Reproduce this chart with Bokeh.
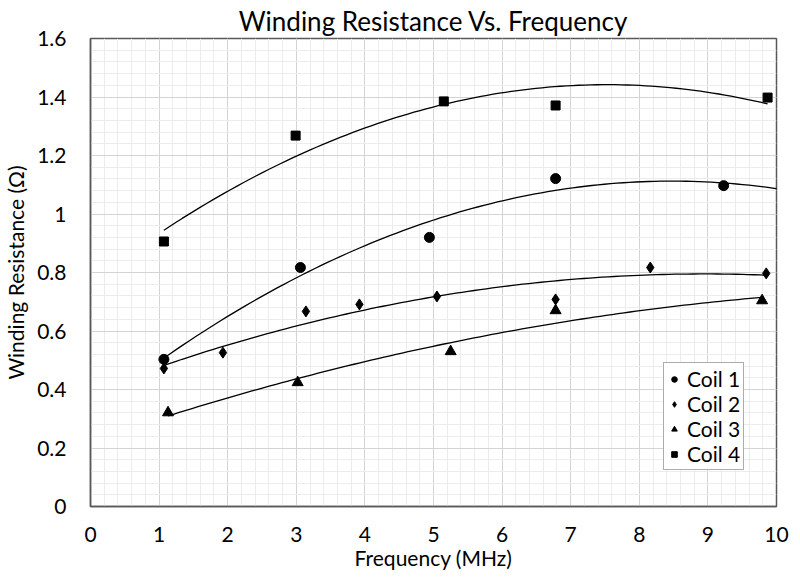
import numpy as np
from bokeh.plotting import figure
from bokeh.models import FixedTicker, Legend, LegendItem
from bokeh.embed import file_html
from bokeh.resources import INLINE

# Data (frequency in MHz, resistance in ohms)
coil1_f = [1.07, 3.06, 4.94, 6.78, 9.23]
coil1_r = [0.503, 0.817, 0.920, 1.121, 1.097]
coil2_f = [1.07, 1.93, 3.14, 3.92, 5.05, 6.78, 8.16, 9.85]
coil2_r = [0.472, 0.526, 0.667, 0.691, 0.718, 0.708, 0.817, 0.797]
coil3_f = [1.13, 3.02, 5.25, 6.78, 9.79]
coil3_r = [0.321, 0.424, 0.530, 0.670, 0.704]
coil4_f = [1.07, 2.99, 5.15, 6.78, 9.87]
coil4_r = [0.906, 1.268, 1.385, 1.371, 1.398]

x_ticks = [0, 1, 2, 3, 4, 5, 6, 7, 8, 9, 10]
y_ticks = [0, 0.2, 0.4, 0.6, 0.8, 1.0, 1.2, 1.4, 1.6]
y_labels = ["0", "0.2", "0.4", "0.6", "0.8", "1", "1.2", "1.4", "1.6"]

FONT = "Lato"

p = figure(frame_width=686, frame_height=468, x_range=(0, 10), y_range=(0, 1.6),
           output_backend="svg", toolbar_location=None,
           min_border_left=84, min_border_right=14, min_border_top=32, min_border_bottom=60)
p.title.text = "Winding Resistance Vs. Frequency"
p.title.align = "center"
p.title.text_font = FONT
p.title.text_font_size = "26px"
p.title.text_font_style = "normal"
p.title.text_color = "#000000"
p.title.offset = 0
p.title.standoff = 4
p.outline_line_color = "#595959"
p.outline_line_width = 1.5

xt = FixedTicker(ticks=x_ticks, minor_ticks=[i * 0.2 for i in range(51)])
yt = FixedTicker(ticks=y_ticks, minor_ticks=[i * 0.04 for i in range(41)])
p.xaxis.ticker = xt
p.yaxis.ticker = yt
p.yaxis.major_label_overrides = {t: l for t, l in zip(y_ticks, y_labels)}
p.xaxis.major_label_overrides = {t: str(t) for t in x_ticks}

for ax in (p.xaxis[0], p.yaxis[0]):
    ax.major_tick_line_color = None
    ax.minor_tick_line_color = None
    ax.axis_line_color = "#595959"
    ax.axis_line_width = 1.5
    ax.major_label_text_font = FONT
    ax.major_label_text_font_size = "21px"
    ax.major_label_text_color = "#000000"
    ax.axis_label_text_font = FONT
    ax.axis_label_text_font_size = "21px"
    ax.axis_label_text_font_style = "normal"
    ax.axis_label_text_color = "#000000"
p.xaxis.major_label_standoff = 14
p.yaxis.major_label_standoff = 18
p.xaxis.axis_label = "Frequency (MHz)"
p.yaxis.axis_label = "Winding Resistance (Ω)"
p.xaxis.axis_label_standoff = 0
p.yaxis.axis_label_standoff = 6

p.xgrid.ticker = xt
p.ygrid.ticker = yt
p.grid.grid_line_color = "#d4d4d4"
p.grid.minor_grid_line_color = "#ececec"

series = [
    ("Coil 1", coil1_f, coil1_r, "circle", 10, 10.15),
    ("Coil 2", coil2_f, coil2_r, "diamond", 11, None),
    ("Coil 3", coil3_f, coil3_r, "triangle", 11, None),
    ("Coil 4", coil4_f, coil4_r, "square", 9, None),
]
items = []
for name, f, r, marker, size, xend in series:
    coef = np.polyfit(f, r, 2)
    x0 = min(f)
    x1 = xend if xend else max(f)
    xs = np.linspace(x0, x1, 100)
    p.line(xs, np.polyval(coef, xs), line_color="#000000", line_width=1.3)
    rr = p.scatter(f, r, marker=marker, size=size,
                   fill_color="#000000", line_color="#000000")
    items.append(LegendItem(label=name, renderers=[rr]))

legend = Legend(items=items, location=(573, 36))
legend.label_text_font = FONT
legend.label_text_font_size = "21px"
legend.label_text_color = "#000000"
legend.border_line_color = "#595959"
legend.border_line_width = 1
legend.background_fill_alpha = 1
legend.glyph_width = 14
legend.glyph_height = 14
legend.spacing = 0
legend.padding = 3
legend.label_height = 22
legend.label_standoff = 6
legend.margin = 0
p.add_layout(legend, "center")

open("out.html", "w").write(file_html(p, INLINE))
